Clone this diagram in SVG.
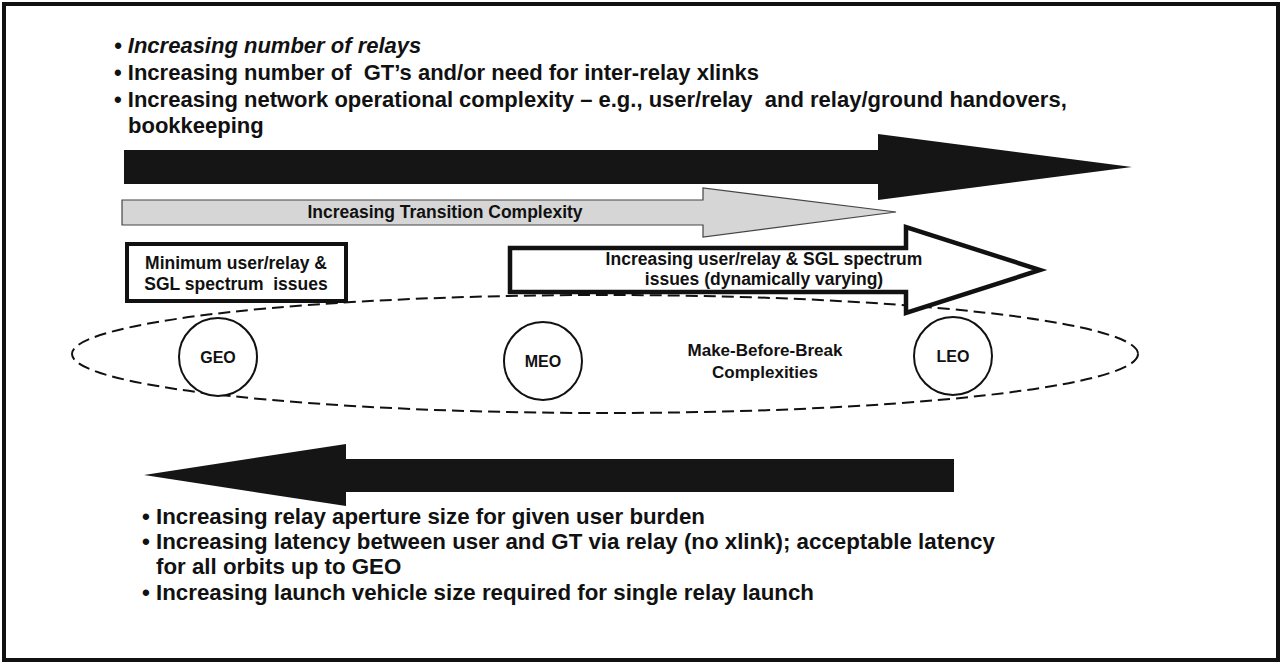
<svg xmlns="http://www.w3.org/2000/svg" width="1284" height="666" viewBox="0 0 1284 666">
<style>
.t{font-family:"Liberation Sans",Arial,sans-serif;font-weight:bold;fill:#111}
.big{font-size:22px}
.bot{font-size:22.3px}
.mid{font-size:17.5px}
.lbl{font-size:16px}
.dark{fill:#151515}
.node{fill:#fff;stroke:#111;stroke-width:2}
</style>
<rect x="0" y="0" width="1284" height="666" fill="#fff"/>
<rect id="frame" x="4" y="4" width="1274" height="656" fill="#fff" stroke="#111" stroke-width="4"/>
<g id="top-bullets">
<text class="t big" x="114" y="53" font-style="italic">• Increasing number of relays</text>
<text class="t big" x="114" y="80" xml:space="preserve">• Increasing number of  GT’s and/or need for inter-relay xlinks</text>
<text class="t big" x="114" y="107" xml:space="preserve">• Increasing network operational complexity – e.g., user/relay  and relay/ground handovers,</text>
<text class="t big" x="128" y="133">bookkeeping</text>
</g>
<g id="connectors">
<path id="arrow-top" class="dark" d="M124,150 H878 V134 L1132,167 L878,200 V184 H124 Z"/>
<path id="arrow-transition" d="M122,200 H703 V188 L896,212 L703,237 V225 H122 Z" fill="#d6d6d6" stroke="#444" stroke-width="1.2"/>
<path id="arrow-bottom" class="dark" d="M144,475 L346,444 V459 H954 V492 H346 V506 Z"/>
</g>
<text class="t" x="445" y="218" font-size="17.5" text-anchor="middle">Increasing Transition Complexity</text>
<g id="orbits">
<ellipse cx="605" cy="354" rx="533" ry="59" fill="none" stroke="#111" stroke-width="2" stroke-dasharray="12 6"/>
</g>
<g id="spectrum-min">
<rect x="127" y="244" width="219" height="57" fill="#fff" stroke="#111" stroke-width="4"/>
<text class="t mid" x="236" y="269" text-anchor="middle">Minimum user/relay &amp;</text>
<text class="t mid" x="236" y="290" text-anchor="middle" xml:space="preserve">SGL spectrum  issues</text>
</g>
<g id="spectrum-increasing">
<path d="M510,248 H906 V227 L1040,270 L906,313 V292 H510 Z" fill="#fff" stroke="#111" stroke-width="4.5"/>
<text class="t mid" x="764" y="265" text-anchor="middle">Increasing user/relay &amp; SGL spectrum</text>
<text class="t mid" x="764" y="285" text-anchor="middle">issues (dynamically varying)</text>
</g>
<g id="geo">
<circle class="node" cx="218" cy="357" r="39"/>
<text class="t lbl" x="218" y="363" text-anchor="middle">GEO</text>
</g>
<g id="meo">
<circle class="node" cx="543" cy="361" r="39"/>
<text class="t lbl" x="543" y="367" text-anchor="middle">MEO</text>
</g>
<g id="leo">
<circle class="node" cx="953" cy="356" r="39"/>
<text class="t lbl" x="953" y="362" text-anchor="middle">LEO</text>
</g>
<g id="mbb">
<text class="t" x="765" y="356" font-size="17" text-anchor="middle">Make-Before-Break</text>
<text class="t" x="765" y="378" font-size="17" text-anchor="middle">Complexities</text>
</g>
<g id="bottom-bullets">
<text class="t bot" x="142" y="524">• Increasing relay aperture size for given user burden</text>
<text class="t bot" x="142" y="549">• Increasing latency between user and GT via relay (no xlink); acceptable latency</text>
<text class="t bot" x="156" y="574">for all orbits up to GEO</text>
<text class="t bot" x="142" y="600">• Increasing launch vehicle size required for single relay launch</text>
</g>
</svg>
